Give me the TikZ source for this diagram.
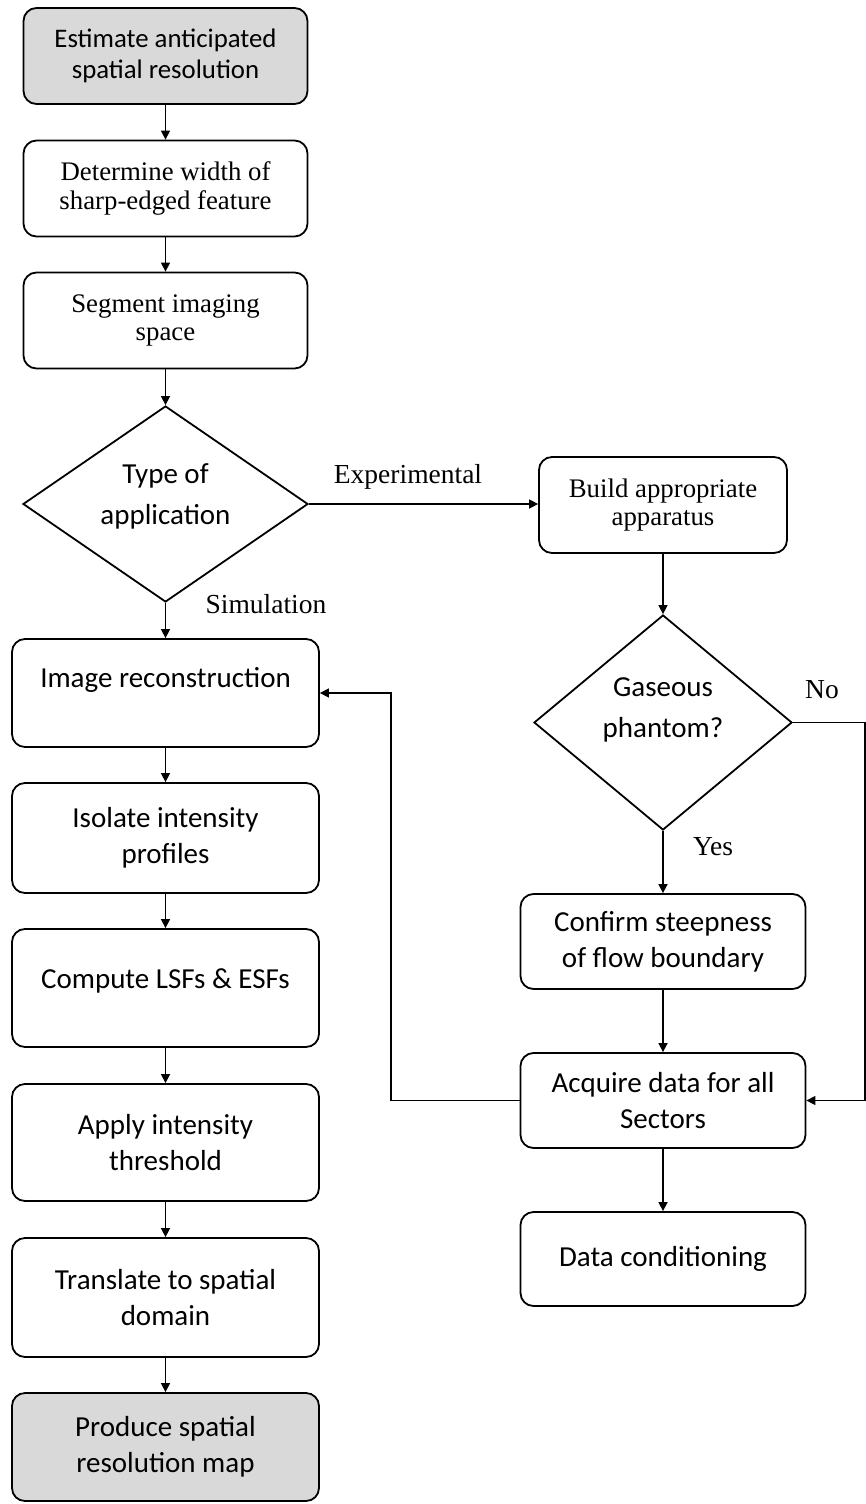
\documentclass[tikz,border=0pt]{standalone}
\usepackage{fontspec}
\setmainfont{Carlito}
\newfontfamily\tms{Liberation Serif}
\usetikzlibrary{shapes.geometric,arrows.meta}
\definecolor{gfill}{HTML}{D9D9D9}
\begin{document}
\begin{tikzpicture}[x=0.5pt,y=-0.5pt,
  box/.style={draw, line width=0.9pt, rounded corners=6.5pt, align=center, inner sep=0pt,
    font=\fontsize{14.5}{18}\selectfont},
  tbox/.style={font=\tms\fontsize{13.4}{14.2}\selectfont},
  lcol/.style={minimum width=153.5pt},
  rcol/.style={minimum width=142.5pt},
  top/.style={minimum width=142pt, minimum height=48pt},
  dia/.style={draw, diamond, inner sep=0pt, line width=0.9pt},
  txt/.style={align=center, inner sep=0pt, font=\fontsize{14.5}{20.5}\selectfont},
  lbl/.style={inner sep=0pt, font=\tms\fontsize{13.75}{14.5}\selectfont},
  arr/.style={-{Triangle[length=4.5pt,width=4.5pt]}, line width=0.75pt}]
\useasboundingbox (0,0) rectangle (866,1504);

% left column
\node[box,top,fill=gfill,font=\fontsize{13.4}{15.5}\selectfont] (b1) at (165.5,56) {Estimate anticipated\\spatial resolution};
\node[box,tbox,top] (b2) at (165.5,188.5) {Determine width of\\sharp-edged feature};
\node[box,tbox,top] (b3) at (165.5,320.5) {Segment imaging\\space};
\node[dia,minimum width=142.5pt,minimum height=98pt] (d1) at (165.5,504) {};
\node[txt] (d1t) at (165.5,496) {Type of\\application};
\node[box,lcol,minimum height=54pt,text depth=15.5pt] (ir) at (165.5,693) {Image reconstruction};
\node[box,lcol,minimum height=55pt] (iso) at (165.5,838) {Isolate intensity\\profiles};
\node[box,lcol,minimum height=59pt,text depth=9.5pt] (comp) at (165.5,988) {Compute LSFs \& ESFs};
\node[box,lcol,minimum height=58.5pt] (app) at (165.5,1142.5) {Apply intensity\\threshold};
\node[box,lcol,minimum height=59.5pt] (tr) at (165.5,1297.5) {Translate to spatial\\domain};
\node[box,lcol,minimum height=54pt,fill=gfill] (prod) at (165.5,1447) {Produce spatial\\resolution map};

% right column
\node[box,tbox,minimum width=124pt,minimum height=48pt] (build) at (663,505) {Build appropriate\\apparatus};
\node[dia,minimum width=129pt,minimum height=107.5pt] (d2) at (663,722.5) {};
\node[txt] (d2t) at (663,710) {Gaseous\\phantom?};
\node[box,rcol,minimum height=47.5pt] (conf) at (663,941.5) {Confirm steepness\\of flow boundary};
\node[box,rcol,minimum height=47.5pt] (acq) at (663,1100.5) {Acquire data for all\\Sectors};
\node[box,rcol,minimum height=47pt] (dc) at (663,1259) {Data conditioning};

% labels
\node[lbl] (lexp) at (408,477) {Experimental};
\node[lbl] (lsim) at (266,604) {Simulation};
\node[lbl] (lno) at (822,690) {No};
\node[lbl] (lyes) at (713,847) {Yes};

\coordinate (fb) at (391,0);
\coordinate (nr) at (865,0);

% connectors
\draw[arr] (b1.south) -- (b2.north);
\draw[arr] (b2.south) -- (b3.north);
\draw[arr] (b3.south) -- (d1.north);
\draw[arr] (d1.south) -- (ir.north);
\draw[arr] (ir.south) -- (iso.north);
\draw[arr] (iso.south) -- (comp.north);
\draw[arr] (comp.south) -- (app.north);
\draw[arr] (app.south) -- (tr.north);
\draw[arr] (tr.south) -- (prod.north);
\draw[arr] (d1.east) -- (d1.east -| build.west);
\draw[arr] (build.south) -- (d2.north);
\draw[arr] (d2.south) -- (conf.north);
\draw[arr] (conf.south) -- (acq.north);
\draw[arr] (acq.south) -- (dc.north);
\draw[arr] (acq.west) -- (acq.west -| fb) |- (ir.east);
\draw[arr] (d2.east) -- (d2.east -| nr) |- (acq.east);
\end{tikzpicture}
\end{document}
